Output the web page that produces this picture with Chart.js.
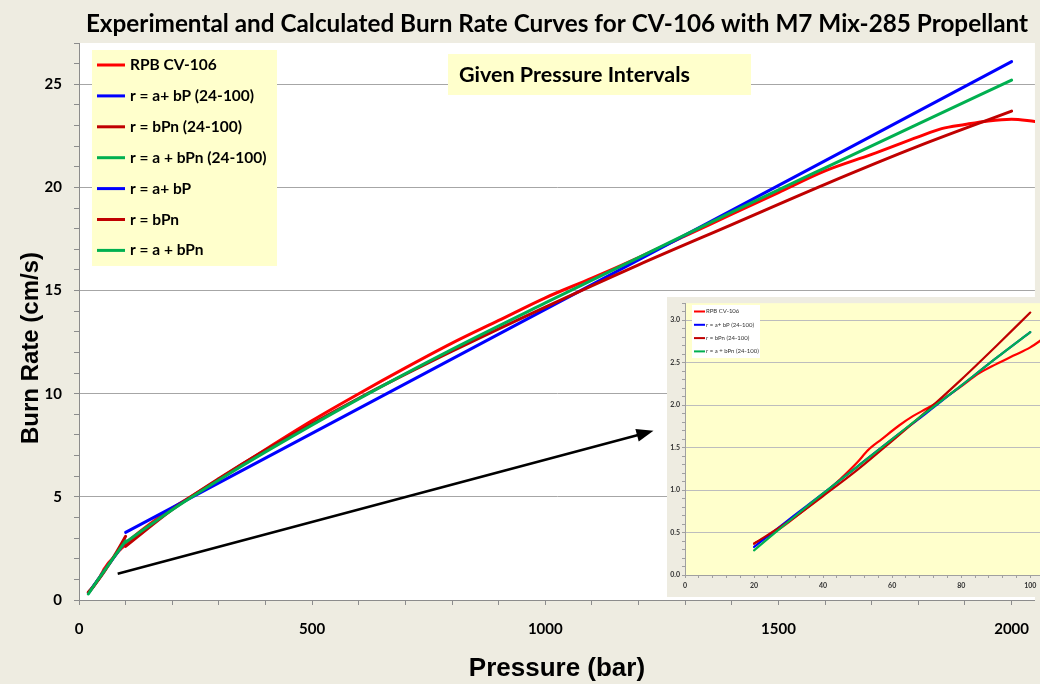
<!DOCTYPE html>
<html>
<head>
<meta charset="utf-8">
<title>Burn Rate Curves CV-106</title>
<script src="https://cdn.jsdelivr.net/npm/chart.js@4.4.1/dist/chart.umd.min.js"></script>
<style>
  html, body { margin: 0; padding: 0; overflow: hidden; background: #EEECE1; }
  #wrap { position: relative; width: 1040px; height: 684px; overflow: hidden; }
  #mainChart { position: absolute; left: 0; top: 0; }
  #insetChart { position: absolute; left: 667px; top: 297px; background: #EEECE1; filter: blur(0.45px); }
</style>
</head>
<body>
<div id="wrap">
  <canvas id="mainChart" width="1044" height="684"></canvas>
  <canvas id="insetChart" width="384" height="300"></canvas>
</div>
<script>
// pressure in bar, burn rate in cm/s
const titleText = 'Experimental and Calculated Burn Rate Curves for CV-106 with M7 Mix-285 Propellant';
const noteText = 'Given Pressure Intervals';
const yTitleText = 'Burn Rate (cm/s)';
const seriesNames = ['RPB CV-106', 'r = a+ bP (24-100)', 'r = bPn (24-100)', 'r = a + bPn (24-100)', 'r = a+ bP', 'r = bPn', 'r = a + bPn'];
const seriesColors = ['#FF0000', '#0000FF', '#C00000', '#00B050', '#0000FF', '#C00000', '#00B050'];

// measured burn rate
const rpbP = [20, 25, 30, 35, 40, 45, 50, 53, 57, 62, 66, 70, 75, 80, 85, 90, 95, 100, 104, 150, 200, 250, 300, 400, 500, 600, 700, 800, 900, 1000, 1100, 1200, 1300, 1400, 1500, 1600, 1700, 1800, 1850, 1900, 1950, 2000, 2050];
const rpbR = [0.37, 0.48, 0.62, 0.78, 0.95, 1.13, 1.33, 1.47, 1.60, 1.76, 1.87, 1.96, 2.08, 2.22, 2.37, 2.48, 2.58, 2.68, 2.79, 3.65, 4.45, 5.15, 5.85, 7.30, 8.70, 10.00, 11.25, 12.45, 13.55, 14.65, 15.60, 16.60, 17.65, 18.70, 19.75, 20.80, 21.60, 22.45, 22.85, 23.05, 23.22, 23.30, 23.20];

// fits over 24-100 bar
const lowP = [20, 30, 40, 50, 60, 70, 80, 90, 100];
const lowLinR = [0.33, 0.65, 0.96, 1.28, 1.60, 1.91, 2.23, 2.55, 2.86];
const lowPowR = [0.37, 0.63, 0.93, 1.24, 1.58, 1.93, 2.30, 2.69, 3.09];
const lowMixR = [0.29, 0.63, 0.96, 1.28, 1.60, 1.92, 2.23, 2.55, 2.86];

// fits over the full range
const fullLinP = [100, 2000];
const fullLinR = [3.28, 26.10];
const fullP = [100, 200, 300, 400, 600, 800, 1000, 1200, 1400, 1600, 1800, 2000];
const fullPowR = [2.60, 4.38, 5.89, 7.27, 9.78, 12.06, 14.20, 16.25, 18.20, 20.15, 22.00, 23.70];
const fullMixR = [2.80, 4.38, 5.82, 7.18, 9.75, 12.15, 14.40, 16.60, 18.80, 20.95, 23.08, 25.20];

const xTickLabels = [0, 500, 1000, 1500, 2000];
const yTickLabels = [0, 5, 10, 15, 20, 25];
const insetXLabels = [0, 20, 40, 60, 80, 100];
const insetYLabels = ['0.0', '0.5', '1.0', '1.5', '2.0', '2.5', '3.0'];

// arrow pointing from the low-pressure end to the zoomed view
const arrowTail = [83, 1.27];
const arrowHead = [1232, 8.2];

const tickFont = { family: 'Lato', size: 15, weight: 'bold' };
const axisTitleFont = { family: "'Liberation Sans', Arial", size: 26, weight: 'bold' };

function toPoints(xs, ys) {
  return xs.map((p, k) => ({ x: p, y: ys[k] }));
}

function makeSet(i, xs, ys, width) {
  return {
    label: seriesNames[i],
    data: toPoints(xs, ys),
    borderColor: seriesColors[i],
    backgroundColor: seriesColors[i],
    borderWidth: width,
    pointRadius: 0,
    borderCapStyle: 'round',
    borderJoinStyle: 'round',
    cubicInterpolationMode: 'monotone',
    order: 10 - i   // later series sit on top
  };
}

function drawLegendBox(ctx, box, items, opt) {
  ctx.fillStyle = opt.fill;
  ctx.fillRect(box.x, box.y, box.w, box.h);
  ctx.font = opt.font;
  ctx.textAlign = 'left';
  ctx.textBaseline = 'middle';
  items.forEach((ds, k) => {
    const cy = box.y + opt.first + k * opt.step;
    ctx.strokeStyle = ds.borderColor;
    ctx.lineWidth = opt.lineWidth;
    ctx.beginPath();
    ctx.moveTo(box.x + opt.lineFrom, cy);
    ctx.lineTo(box.x + opt.lineTo, cy);
    ctx.stroke();
    ctx.fillStyle = opt.color;
    ctx.fillText(ds.label, box.x + opt.textAt, cy);
  });
}

const mainDecor = {
  id: 'mainDecor',
  beforeDraw(chart) {
    const { ctx, chartArea: a } = chart;
    ctx.save();
    ctx.fillStyle = '#FFFFFF';
    ctx.fillRect(a.left, a.top, a.right - a.left, a.bottom - a.top);
    ctx.restore();
  },
  afterDraw(chart) {
    const { ctx } = chart;
    const { x, y } = chart.scales;
    ctx.save();

    ctx.fillStyle = '#000';
    ctx.font = 'bold 24.3px Lato';
    ctx.textAlign = 'center';
    ctx.textBaseline = 'middle';
    ctx.fillText(titleText, 557, 24);

    // vertical axis title
    ctx.save();
    ctx.translate(31, 348);
    ctx.rotate(-Math.PI / 2);
    ctx.font = "bold 24px 'Liberation Sans', Arial";
    ctx.fillText(yTitleText, 0, 0);
    ctx.restore();

    drawLegendBox(ctx, { x: 92, y: 50, w: 185, h: 216 }, chart.data.datasets, {
      fill: '#FFFFCC', font: 'bold 15.5px Lato', color: '#000',
      first: 15, step: 30.9, lineWidth: 3, lineFrom: 5, lineTo: 33, textAt: 38
    });

    ctx.fillStyle = '#FFFFCC';
    ctx.fillRect(448, 54, 303, 41);
    ctx.fillStyle = '#000';
    ctx.font = 'bold 21.5px Lato';
    ctx.textAlign = 'left';
    ctx.fillText(noteText, 459, 75);

    const x0 = x.getPixelForValue(arrowTail[0]), y0 = y.getPixelForValue(arrowTail[1]);
    const x1 = x.getPixelForValue(arrowHead[0]), y1 = y.getPixelForValue(arrowHead[1]);
    const ang = Math.atan2(y1 - y0, x1 - x0);
    const c = Math.cos(ang), s = Math.sin(ang);
    ctx.strokeStyle = '#000';
    ctx.fillStyle = '#000';
    ctx.lineWidth = 2.5;
    ctx.beginPath();
    ctx.moveTo(x0, y0);
    ctx.lineTo(x1 - 12 * c, y1 - 12 * s);
    ctx.stroke();
    ctx.beginPath();
    ctx.moveTo(x1, y1);
    ctx.lineTo(x1 - 17 * c + 6.5 * s, y1 - 17 * s - 6.5 * c);
    ctx.lineTo(x1 - 17 * c - 6.5 * s, y1 - 17 * s + 6.5 * c);
    ctx.closePath();
    ctx.fill();

    ctx.restore();
  }
};

new Chart(document.getElementById('mainChart'), {
  type: 'line',
  data: {
    datasets: [
      makeSet(0, rpbP, rpbR, 3),
      makeSet(1, lowP, lowLinR, 3),
      makeSet(2, lowP, lowPowR, 3),
      makeSet(3, lowP, lowMixR, 3),
      makeSet(4, fullLinP, fullLinR, 3),
      makeSet(5, fullP, fullPowR, 3),
      makeSet(6, fullP, fullMixR, 3)
    ]
  },
  options: {
    responsive: false,
    animation: false,
    devicePixelRatio: 1,
    layout: { padding: { top: 43, left: 0, right: 0, bottom: 0 } },
    plugins: { legend: { display: false }, tooltip: { enabled: false }, title: { display: false } },
    scales: {
      x: {
        type: 'linear', min: 0, max: 2050,
        afterFit(s) { s.height = 84; },
        border: { color: '#8C8C8C', width: 1 },
        grid: { drawOnChartArea: false, tickLength: 5, tickColor: '#8C8C8C' },
        ticks: {
          stepSize: 100, autoSkip: false, includeBounds: false, maxRotation: 0,
          padding: 15, color: '#000', font: tickFont,
          callback: v => xTickLabels.includes(v) ? String(v) : ''
        },
        title: { display: true, text: 'Pressure (bar)', color: '#000', font: axisTitleFont, padding: { top: 5, bottom: 0 } }
      },
      y: {
        type: 'linear', min: 0, max: 27,
        afterFit(s) { s.width = 79; },
        border: { color: '#8C8C8C', width: 1 },
        grid: {
          color: c => (c.tick && c.tick.value % 5 === 0) ? '#A6A6A6' : 'rgba(0,0,0,0)',
          tickLength: 5, tickColor: '#8C8C8C'
        },
        ticks: {
          stepSize: 1, autoSkip: false, padding: 12, color: '#000', font: tickFont,
          callback: v => yTickLabels.includes(v) ? String(v) : ''
        }
      }
    }
  },
  plugins: [mainDecor]
});

// zoomed view of the 24-100 bar interval
const insetDecor = {
  id: 'insetDecor',
  beforeDraw(chart) {
    const { ctx, chartArea: a } = chart;
    ctx.save();
    ctx.fillStyle = '#FFFFCC';
    ctx.fillRect(a.left, a.top, a.right - a.left, a.bottom - a.top);
    ctx.restore();
  },
  afterDraw(chart) {
    const { ctx } = chart;
    ctx.save();
    drawLegendBox(ctx, { x: 25, y: 8, w: 68, h: 53 }, chart.data.datasets, {
      fill: '#FFFFFF', font: '6px Lato', color: '#333',
      first: 6.5, step: 13.3, lineWidth: 2, lineFrom: 2, lineTo: 13, textAt: 14
    });
    ctx.restore();
  }
};

const isHalfStep = v => Math.abs(v * 2 - Math.round(v * 2)) < 1e-6;
const insetTickFont = { family: 'Lato', size: 7, weight: 'bold' };

new Chart(document.getElementById('insetChart'), {
  type: 'line',
  data: {
    datasets: [
      makeSet(0, rpbP.slice(0, 19), rpbR.slice(0, 19), 2.2),
      makeSet(1, lowP, lowLinR, 2.2),
      makeSet(2, lowP, lowPowR, 2.2),
      makeSet(3, lowP, lowMixR, 2.2)
    ]
  },
  options: {
    responsive: false,
    animation: false,
    devicePixelRatio: 1,
    layout: { padding: { top: 4, left: 0, right: 0, bottom: 0 } },
    plugins: { legend: { display: false }, tooltip: { enabled: false } },
    scales: {
      x: {
        type: 'linear', min: 0, max: 106,
        afterFit(s) { s.height = 22; },
        border: { color: '#A0A0A0' },
        grid: { drawOnChartArea: false, tickLength: 3, tickColor: '#A0A0A0' },
        ticks: {
          stepSize: 4, autoSkip: false, includeBounds: false, maxRotation: 0,
          padding: 4, color: '#333', font: insetTickFont,
          callback: v => insetXLabels.includes(v) ? String(v) : ''
        }
      },
      y: {
        type: 'linear', min: 0, max: 3.2,
        afterFit(s) { s.width = 18; },
        border: { color: '#A0A0A0' },
        grid: {
          color: c => (c.tick && isHalfStep(c.tick.value)) ? '#BDBDBD' : 'rgba(0,0,0,0)',
          tickLength: 3, tickColor: '#A0A0A0'
        },
        ticks: {
          stepSize: 0.1, autoSkip: false, padding: 2, color: '#333', font: insetTickFont,
          callback: v => insetYLabels.includes(v.toFixed(1)) && isHalfStep(v) ? v.toFixed(1) : ''
        }
      }
    }
  },
  plugins: [insetDecor]
});
</script>
</body>
</html>
